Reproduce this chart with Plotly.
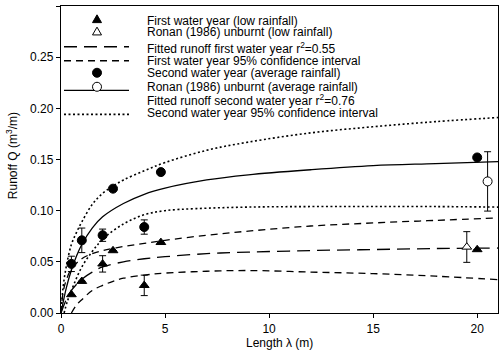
import plotly.graph_objects as go

# ---------------- data ----------------
first_L = [0.5, 1.0, 2.0, 2.5, 4.0, 4.8, 20.0]
first_Q = [0.018, 0.031, 0.048, 0.061, 0.027, 0.069, 0.062]
first_E = [None, None, 0.008, None, 0.010, None, None]

ronan_low_L = [19.5]
ronan_low_Q = [0.0645]
ronan_low_E = [0.015]

second_L = [0.5, 1.0, 2.0, 2.5, 4.0, 4.8, 20.0]
second_Q = [0.048, 0.071, 0.076, 0.1215, 0.084, 0.1377, 0.152]
second_E = [0.0075, 0.012, 0.006, None, 0.007, None, None]

ronan_avg_L = [20.5]
ronan_avg_Q = [0.1286]
ronan_avg_E = [0.029]

fit1_x = [0, 0.25, 0.5, 1, 1.5, 2, 3, 4, 5, 7, 9, 12, 15, 18, 21]
fit1_y = [0, 0.013, 0.022, 0.033, 0.040, 0.045, 0.050, 0.053, 0.055, 0.058, 0.0595, 0.061, 0.062, 0.063, 0.0635]

up1_x = [0, 0.1, 0.25, 0.5, 1, 1.5, 2, 3, 4, 5, 7, 9, 12, 15, 18, 21]
up1_y = [0, 0.02, 0.032, 0.043, 0.053, 0.058, 0.061, 0.065, 0.068, 0.071, 0.076, 0.080, 0.085, 0.088, 0.0905, 0.093]

lo1_x = [0.5, 0.75, 1, 1.5, 2, 2.5, 3, 4, 5, 7, 9, 12, 15, 18, 21]
lo1_y = [0, 0.008, 0.013, 0.022, 0.027, 0.031, 0.034, 0.037, 0.039, 0.0408, 0.0415, 0.040, 0.0385, 0.036, 0.0326]

fit2_x = [0, 0.25, 0.5, 0.75, 1, 1.5, 2, 3, 4, 5, 7, 9, 12, 15, 18, 21]
fit2_y = [0, 0.024, 0.042, 0.056, 0.067, 0.083, 0.094, 0.107, 0.116, 0.122, 0.130, 0.135, 0.140, 0.144, 0.146, 0.148]

up2_x = [0, 0.1, 0.25, 0.5, 0.75, 1, 1.5, 2, 2.5, 3, 4, 5, 7, 9, 12, 15, 18, 21]
up2_y = [0, 0.025, 0.045, 0.067, 0.079, 0.089, 0.106, 0.117, 0.124, 0.130, 0.139, 0.147, 0.159, 0.167, 0.176, 0.182, 0.187, 0.191]

lo2_x = [0.15, 0.3, 0.6, 1.0, 1.5, 2, 3, 4, 5, 6.5, 9, 12, 15, 18, 21]
lo2_y = [0, 0.011, 0.027, 0.045, 0.060, 0.072, 0.087, 0.096, 0.100, 0.102, 0.1035, 0.104, 0.104, 0.104, 0.1035]

legend_labels = [
    "First water year (low rainfall)",
    "Ronan (1986) unburnt (low rainfall)",
    "Fitted runoff first water year r<sup>2</sup>=0.55",
    "First water year 95% confidence interval",
    "Second water year (average rainfall)",
    "Ronan (1986) unburnt (average rainfall)",
    "Fitted runoff second water year r<sup>2</sup>=0.76",
    "Second water year 95% confidence interval",
]

x_ticks = [0, 5, 10, 15, 20]
y_ticks = [0.00, 0.05, 0.10, 0.15, 0.20, 0.25, 0.30]

# ---------------- style ----------------
FONT = "Liberation Sans, Arial, sans-serif"
BLACK = "#000000"
LW = 1.3
LONG = "13px,7px"
SHORT = "7px,5px"
DOT = "2px,2.5px"

fig = go.Figure()

def curve(x, y, dash, w=LW):
    fig.add_trace(go.Scatter(x=x, y=y, mode="lines", line=dict(color=BLACK, width=w, dash=dash, shape="spline"),
                             showlegend=False, hoverinfo="skip"))

curve(up2_x, up2_y, DOT, 1.6)
curve(lo2_x, lo2_y, DOT, 1.6)
curve(fit2_x, fit2_y, "solid")
curve(up1_x, up1_y, SHORT)
curve(lo1_x, lo1_y, SHORT)
curve(fit1_x, fit1_y, LONG)

def pts(x, y, e, symbol, fill):
    fig.add_trace(go.Scatter(
        x=x, y=y, mode="markers",
        marker=dict(symbol=symbol, size=9 if "circle" in symbol else 8.5, color=fill, line=dict(color=BLACK, width=1)),
        error_y=dict(type="data", array=e, visible=True, color=BLACK, thickness=1, width=3.5),
        showlegend=False, hoverinfo="skip"))

pts(first_L, first_Q, first_E, "triangle-up", BLACK)
pts(ronan_low_L, ronan_low_Q, ronan_low_E, "triangle-up", "white")
pts(second_L, second_Q, second_E, "circle", BLACK)
pts(ronan_avg_L, ronan_avg_Q, ronan_avg_E, "circle", "white")

# ---------------- manual legend ----------------
PL, PR, PT, PB = 61, 498, 6, 312.7
def px2x(p):
    return (p - PL) / (PR - PL)
def py2y(p):
    return (PB - p) / (PB - PT)

text_rows = [20.7, 32.3, 47.7, 61, 72.7, 87.3, 100, 113.3]
annotations = []
for lab, r in zip(legend_labels, text_rows):
    annotations.append(dict(text=lab, x=px2x(145), y=py2y(r), xref="paper", yref="paper",
                            xanchor="left", yanchor="middle", showarrow=False,
                            font=dict(family=FONT, size=12, color=BLACK)))

shapes = []
for r, dash, w in [(46.7, LONG, LW), (60.7, SHORT, LW), (90.3, "solid", LW), (114.3, DOT, 1.6)]:
    shapes.append(dict(type="line", xref="paper", yref="paper", x0=px2x(64), x1=px2x(129),
                       y0=py2y(r), y1=py2y(r), line=dict(color=BLACK, width=w, dash=dash)))

tri = "M-4.5,-2.6 L4.5,-2.6 L0,5.2 Z"
for r, fill in [(20, BLACK), (32.3, "white")]:
    shapes.append(dict(type="path", xref="paper", yref="paper", xsizemode="pixel", ysizemode="pixel",
                       xanchor=px2x(97), yanchor=py2y(r), path=tri, fillcolor=fill,
                       line=dict(color=BLACK, width=1)))
for r, fill in [(72.7, BLACK), (86.7, "white")]:
    shapes.append(dict(type="circle", xref="paper", yref="paper", xsizemode="pixel", ysizemode="pixel",
                       xanchor=px2x(97), yanchor=py2y(r), x0=-4.5, x1=4.5, y0=-4.5, y1=4.5,
                       fillcolor=fill, line=dict(color=BLACK, width=1)))

# axis titles
annotations.append(dict(text="Length \u03bb (m)", x=0.5, y=py2y(343), xref="paper", yref="paper",
                        xanchor="center", yanchor="middle", showarrow=False,
                        font=dict(family=FONT, size=12, color=BLACK)))
annotations.append(dict(text="Runoff Q (m<sup>3</sup>/m)", x=px2x(12), y=py2y(156), xref="paper", yref="paper",
                        xanchor="center", yanchor="middle", showarrow=False, textangle=-90,
                        font=dict(family=FONT, size=12, color=BLACK)))

fig.update_layout(
    width=500, height=353,
    margin=dict(l=PL, r=500 - PR, t=PT, b=353 - PB),
    paper_bgcolor="white", plot_bgcolor="white",
    font=dict(family=FONT, size=12, color=BLACK),
    showlegend=False,
    annotations=annotations,
    shapes=shapes,
    xaxis=dict(range=[0, 21], tickvals=x_ticks, ticktext=[str(v) for v in x_ticks],
               ticks="outside", ticklen=4, tickwidth=1, tickcolor=BLACK,
               showline=True, linecolor=BLACK, linewidth=LW, mirror=True,
               showgrid=False, zeroline=False, tickfont=dict(family=FONT, size=12, color=BLACK)),
    yaxis=dict(range=[0, 0.30], tickvals=y_ticks, ticktext=["%.2f" % v for v in y_ticks],
               ticks="outside", ticklen=4, tickwidth=1, tickcolor=BLACK,
               showline=True, linecolor=BLACK, linewidth=LW, mirror=True,
               showgrid=False, zeroline=False, tickfont=dict(family=FONT, size=12, color=BLACK)),
)

fig.write_html("out.html")
